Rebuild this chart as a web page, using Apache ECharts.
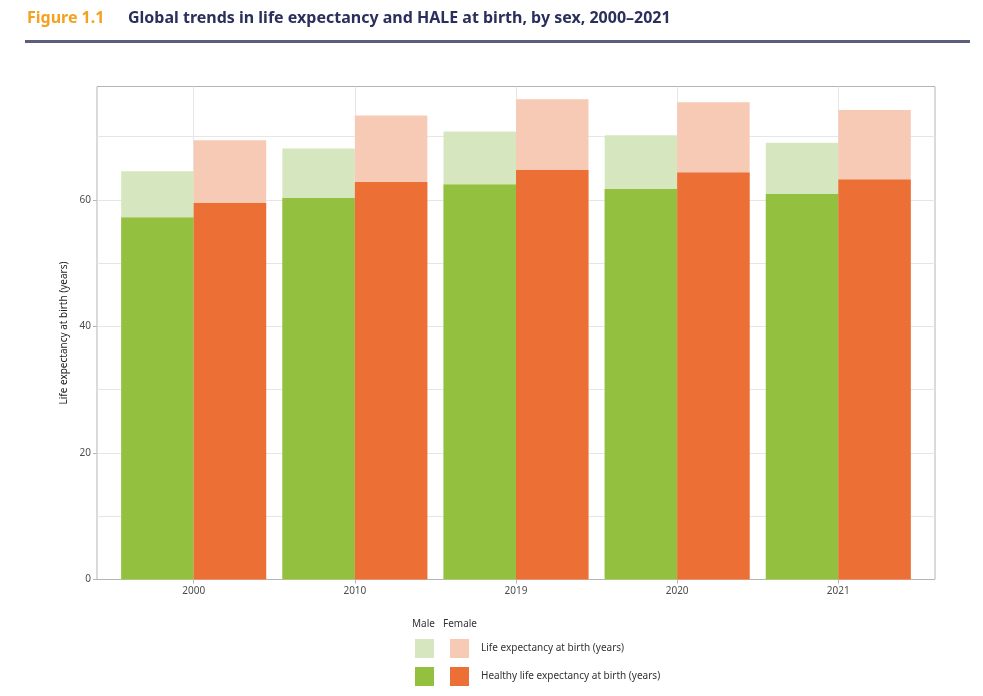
<!DOCTYPE html>
<html>
<head>
<meta charset="utf-8">
<script src="https://cdn.jsdelivr.net/npm/echarts@6/dist/echarts.min.js"></script>
<style>
html,body{margin:0;padding:0;background:#fff;}
#chart{width:983px;height:696px;}
</style>
</head>
<body>
<div id="chart"></div>
<script>
// ---- data ----
const years = ['2000', '2010', '2019', '2020', '2021'];
const maleLE = [64.5, 68.1, 70.8, 70.2, 69.0];
const maleHALE = [57.2, 60.3, 62.4, 61.7, 60.9];
const femaleLE = [69.4, 73.3, 75.9, 75.4, 74.2];
const femaleHALE = [59.5, 62.8, 64.7, 64.3, 63.2];
const yTickLabels = [0, 20, 40, 60];
const yGridValues = [10, 20, 30, 40, 50, 60, 70];
const legendLE = 'Life expectancy at birth (years)';
const legendHALE = 'Healthy life expectancy at birth (years)';

const xPos = years.map((y, i) => i + 1);
const toPairs = arr => arr.map((v, i) => [xPos[i], v]);

const C = {
  maleLE: '#d6e7bf', maleHALE: '#93c03f',
  femaleLE: '#f7cab5', femaleHALE: '#ec7036'
};
const font = 'Noto Sans';
const barW = 72.5;

const chart = echarts.init(document.getElementById('chart'));
chart.setOption({
  animation: false,
  backgroundColor: '#fff',
  textStyle: { fontFamily: font },
  title: [
    {
      left: 22, top: 5,
      text: 'Figure 1.1',
      textStyle: { fontFamily: font, fontWeight: 'bold', fontSize: 16, color: '#f3a11f' }
    },
    {
      left: 123, top: 5,
      text: 'Global trends in life expectancy and HALE at birth, by sex, 2000\u20132021',
      textStyle: { fontFamily: font, fontWeight: 'bold', fontSize: 16, color: '#2b2f5c' }
    }
  ],
  graphic: [
    { type: 'line', shape: { x1: 25, y1: 41.5, x2: 970, y2: 41.5 }, style: { stroke: '#5b5f7c', lineWidth: 3 } },
    { type: 'text', left: 412, top: 619, style: { text: 'Male', fontFamily: font, fontSize: 10, fill: '#333' } },
    { type: 'text', left: 443, top: 619, style: { text: 'Female', fontFamily: font, fontSize: 10, fill: '#333' } }
  ],
  grid: {
    left: 97, right: 48, top: 86.5, bottom: 116.5,
    show: true, borderColor: '#b5b5b5', borderWidth: 1
  },
  legend: [
    {
      orient: 'vertical', left: 410, top: 634, itemWidth: 19, itemHeight: 19, itemGap: 9,
      icon: 'rect', selectedMode: false,
      formatter: () => '',
      data: [
        { name: 'Male: ' + legendLE, itemStyle: { color: C.maleLE } },
        { name: 'Male: ' + legendHALE, itemStyle: { color: C.maleHALE } }
      ]
    },
    {
      orient: 'vertical', left: 445, top: 634, itemWidth: 19, itemHeight: 19, itemGap: 9,
      icon: 'rect', selectedMode: false,
      formatter: name => name.replace('Female: ', ''),
      textStyle: { fontFamily: font, fontSize: 10, color: '#333', padding: [0, 0, 0, 7] },
      data: [
        { name: 'Female: ' + legendLE, itemStyle: { color: C.femaleLE } },
        { name: 'Female: ' + legendHALE, itemStyle: { color: C.femaleHALE } }
      ]
    }
  ],
  xAxis: [
    {
      type: 'value', min: 0.4, max: 5.6, gridIndex: 0,
      axisLine: { show: false },
      axisTick: { show: true, length: 4, customValues: xPos, lineStyle: { color: '#b5b5b5' } },
      axisLabel: { customValues: xPos, formatter: v => years[Math.round(v) - 1], color: '#4d4d4d', fontSize: 10, margin: 7 },
      splitLine: { show: true, lineStyle: { color: '#e6e6e6', width: 1 } }
    },
    {
      type: 'value', min: 0.4, max: 5.6, gridIndex: 0, show: false
    }
  ],
  yAxis: [
    {
      type: 'value', min: 0, max: 77.9,
      name: 'Life expectancy at birth (years)', nameLocation: 'middle', nameGap: 26, nameRotate: 90,
      nameTextStyle: { fontFamily: font, fontSize: 10, color: '#222' },
      axisLine: { show: false },
      axisTick: { show: true, length: 4, customValues: yTickLabels, lineStyle: { color: '#b5b5b5' } },
      axisLabel: { customValues: yTickLabels, color: '#4d4d4d', fontSize: 10, margin: 6 },
      splitLine: { show: false }
    },
    {
      type: 'value', min: 0, max: 77.9, position: 'left',
      axisLine: { show: false }, axisLabel: { show: false },
      axisTick: { show: false, customValues: yGridValues },
      splitLine: { show: true, lineStyle: { color: '#e6e6e6', width: 1 } }
    }
  ],
  series: [
    { name: 'Male: ' + legendLE, type: 'bar', xAxisIndex: 0, yAxisIndex: 0, barWidth: barW, barGap: '0%',
      itemStyle: { color: C.maleLE }, data: toPairs(maleLE) },
    { name: 'Female: ' + legendLE, type: 'bar', xAxisIndex: 0, yAxisIndex: 0, barWidth: barW, barGap: '0%',
      itemStyle: { color: C.femaleLE }, data: toPairs(femaleLE) },
    { name: 'Male: ' + legendHALE, type: 'bar', xAxisIndex: 1, yAxisIndex: 0, barWidth: barW, barGap: '0%',
      itemStyle: { color: C.maleHALE }, data: toPairs(maleHALE) },
    { name: 'Female: ' + legendHALE, type: 'bar', xAxisIndex: 1, yAxisIndex: 0, barWidth: barW, barGap: '0%',
      itemStyle: { color: C.femaleHALE }, data: toPairs(femaleHALE) }
  ]
});
</script>
</body>
</html>
